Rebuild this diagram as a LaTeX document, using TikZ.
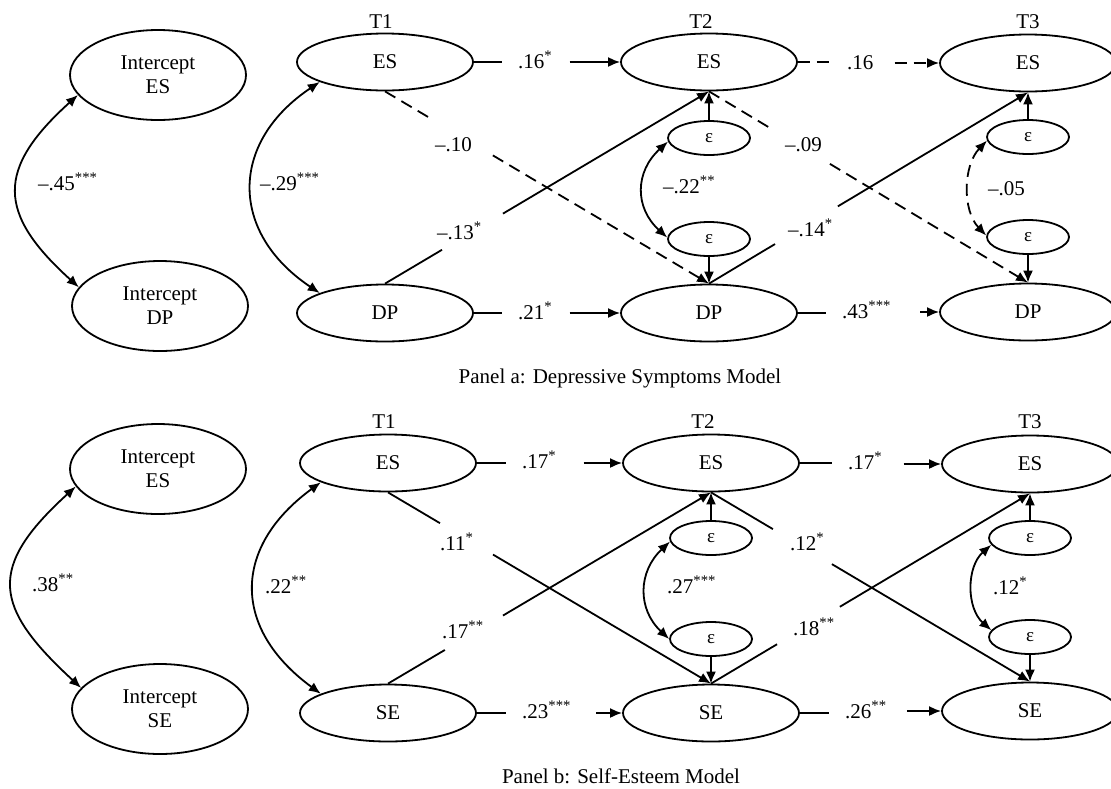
\documentclass[tikz,border=0pt]{standalone}
\usepackage{fontspec}
\setmainfont{Liberation Serif}
\usetikzlibrary{shapes.geometric,arrows.meta,calc}
\newcommand{\sg}[1]{\textsuperscript{#1}}
\begin{document}
\begin{tikzpicture}[x=1pt,y=-1pt,
  every node/.style={font=\fontsize{21}{24}\selectfont},
  lat/.style={ellipse,draw,line width=1.8pt,minimum width=176pt,minimum height=57pt,inner sep=0pt},
  icpt/.style={ellipse,draw,line width=1.8pt,minimum width=176pt,minimum height=90pt,inner sep=0pt,align=center},
  err/.style={ellipse,draw,line width=1.8pt,minimum width=82pt,minimum height=34pt,inner sep=0pt,font=\fontsize{19}{20}\selectfont},
  lab/.style={inner sep=0pt,anchor=base west},
  ttl/.style={inner sep=0pt,anchor=base},
  ln/.style={line width=1.8pt},
  arr/.style={line width=1.8pt,-{Latex[length=12pt,width=10pt]}},
  dbl/.style={line width=1.8pt,{Latex[length=12pt,width=10pt]}-{Latex[length=12pt,width=10pt]}},
  dsh/.style={dash pattern=on 12pt off 7pt}
]
\useasboundingbox[fill=white] (0,0) rectangle (1111,788);

% ================= Panel a =================
\node[icpt] (IESa) at (158,75) {Intercept\\ES};
\node[icpt] (IDPa) at (160,306) {Intercept\\DP};

\node[ttl] (T1a) at (381,28) {T1};
\node[ttl] (T2a) at (701,28) {T2};
\node[ttl] (T3a) at (1028,28) {T3};

\node[lat] (ES1a) at (385,62) {ES};
\node[lat] (ES2a) at (709,62) {ES};
\node[lat] (ES3a) at (1028,63) {ES};
\node[lat] (DP1a) at (385,313) {DP};
\node[lat] (DP2a) at (709,313) {DP};
\node[lat] (DP3a) at (1028,312) {DP};

\node[err] (Ea1) at (709,138) {ε};
\node[err] (Ea2) at (709,239) {ε};
\node[err] (Ea3) at (1028,137) {ε};
\node[err] (Ea4) at (1028,237) {ε};

% covariances
\draw[dbl] (IESa.194) .. controls +(-82,74) and +(-82,-74) .. (IDPa.167);
\node[lab] (c45) at (38,190) {–.45\sg{***}};
\draw[dbl] (ES1a.197) .. controls +(-91,61) and +(-90,-60) .. (DP1a.163);
\node[lab] (c29) at (260,190) {–.29\sg{***}};
\draw[dbl] (Ea1.185) .. controls +(-33,30) and +(-33,-30) .. (Ea2.178);
\node[lab] (c22) at (663,193) {–.22\sg{**}};
\draw[dbl,dsh] (Ea3.185) .. controls +(-24,25) and +(-24,-25) .. (Ea4.178);
\node[lab] (c05) at (988,195) {–.05};

% residual arrows
\draw[arr] (Ea1.north) -- (ES2a.south);
\draw[arr] (Ea2.south) -- (DP2a.north);
\draw[arr] (Ea3.north) -- (ES3a.south);
\draw[arr] (Ea4.south) -- (DP3a.north);

% autoregressive paths
\node[lab] (l16a) at (518,68) {.16\sg{*}};
\draw[ln] (ES1a.east) -- ($(ES1a.east -| l16a.west)+(-16,0)$);
\draw[arr] ($(ES2a.west -| l16a.east)+(17,0)$) -- (ES2a.west);

\node[lab] (l16b) at (847,69) {.16};
\draw[ln,dsh] (ES2a.east) -- ($(ES2a.east -| l16b.west)+(-16,0)$);
\draw[arr,dsh] ($(ES3a.west -| l16b.east)+(21,0)$) -- (ES3a.west);

\node[lab] (l21) at (518,319) {.21\sg{*}};
\draw[ln] (DP1a.east) -- ($(DP1a.east -| l21.west)+(-16,0)$);
\draw[arr] ($(DP2a.west -| l21.east)+(17,0)$) -- (DP2a.west);

\node[lab] (l43) at (842,318) {.43\sg{***}};
\draw[ln] (DP2a.east) -- ($(DP2a.east -| l43.west)+(-16,0)$);
\draw[arr] ($(DP3a.west -| l43.east)+(29,0)$) -- (DP3a.west);

% cross-lagged paths
\draw[ln,dsh] (ES1a.south) -- ($(ES1a.south)!0.148!(DP2a.north)$);
\draw[arr,dsh] ($(ES1a.south)!0.333!(DP2a.north)$) -- (DP2a.north);
\node[lab] (l10) at (435,151) {–.10};

\draw[ln] (DP1a.north) -- ($(DP1a.north)!0.176!(ES2a.south)$);
\draw[arr] ($(DP1a.north)!0.364!(ES2a.south)$) -- (ES2a.south);
\node[lab] (l13) at (437,239) {–.13\sg{*}};

\draw[ln,dsh] (ES2a.south) -- ($(ES2a.south)!0.191!(DP3a.north)$);
\draw[arr,dsh] ($(ES2a.south)!0.379!(DP3a.north)$) -- (DP3a.north);
\node[lab] (l09) at (785,151) {–.09};

\draw[ln] (DP2a.north) -- ($(DP2a.north)!0.207!(ES3a.south)$);
\draw[arr] ($(DP2a.north)!0.404!(ES3a.south)$) -- (ES3a.south);
\node[lab] (l14) at (788,236) {–.14\sg{*}};

\node[ttl] (capa) at (620,383) {Panel a: Depressive Symptoms Model};

% ================= Panel b =================
\node[icpt] (IESb) at (158,469) {Intercept\\ES};
\node[icpt] (ISEb) at (160,709) {Intercept\\SE};

\node[ttl] (T1b) at (384,428) {T1};
\node[ttl] (T2b) at (703,428) {T2};
\node[ttl] (T3b) at (1030,428) {T3};

\node[lat] (ES1b) at (388,463) {ES};
\node[lat] (ES2b) at (711,463) {ES};
\node[lat] (ES3b) at (1030,464) {ES};
\node[lat] (SE1b) at (388,713) {SE};
\node[lat] (SE2b) at (711,713) {SE};
\node[lat] (SE3b) at (1030,711) {SE};

\node[err] (Eb1) at (711,538) {ε};
\node[err] (Eb2) at (711,639) {ε};
\node[err] (Eb3) at (1030,538) {ε};
\node[err] (Eb4) at (1030,637) {ε};

% covariances
\draw[dbl] (IESb.192) .. controls +(-89,81) and +(-88,-81) .. (ISEb.165);
\node[lab] (c38) at (32,591) {.38\sg{**}};
\draw[dbl] (ES1b.196) .. controls +(-89,65) and +(-89,-65) .. (SE1b.164);
\node[lab] (c22b) at (265,593) {.22\sg{**}};
\draw[dbl] (Eb1.185) .. controls +(-32,30) and +(-32,-30) .. (Eb2.180);
\node[lab] (c27) at (667,593) {.27\sg{***}};
\draw[dbl] (Eb3.190) .. controls +(-25,22) and +(-25,-22) .. (Eb4.170);
\node[lab] (c12) at (993,594) {.12\sg{*}};

% residual arrows
\draw[arr] (Eb1.north) -- (ES2b.south);
\draw[arr] (Eb2.south) -- (SE2b.north);
\draw[arr] (Eb3.north) -- (ES3b.south);
\draw[arr] (Eb4.south) -- (SE3b.north);

% autoregressive paths
\node[lab] (m17a) at (522,468) {.17\sg{*}};
\draw[ln] (ES1b.east) -- ($(ES1b.east -| m17a.west)+(-16,0)$);
\draw[arr] ($(ES2b.west -| m17a.east)+(27,0)$) -- (ES2b.west);

\node[lab] (m17b) at (848,469) {.17\sg{*}};
\draw[ln] (ES2b.east) -- ($(ES2b.east -| m17b.west)+(-16,0)$);
\draw[arr] ($(ES3b.west -| m17b.east)+(21,0)$) -- (ES3b.west);

\node[lab] (m23) at (522,718) {.23\sg{***}};
\draw[ln] (SE1b.east) -- ($(SE1b.east -| m23.west)+(-16,0)$);
\draw[arr] ($(SE2b.west -| m23.east)+(25,0)$) -- (SE2b.west);

\node[lab] (m26) at (845,718) {.26\sg{**}};
\draw[ln] (SE2b.east) -- ($(SE2b.east -| m26.west)+(-16,0)$);
\draw[arr] ($(SE3b.west -| m26.east)+(20,0)$) -- (SE3b.west);

% cross-lagged paths
\draw[ln] (ES1b.south) -- ($(ES1b.south)!0.161!(SE2b.north)$);
\draw[arr] ($(ES1b.south)!0.325!(SE2b.north)$) -- (SE2b.north);
\node[lab] (m11) at (440,550) {.11\sg{*}};

\draw[ln] (SE1b.north) -- ($(SE1b.north)!0.176!(ES2b.south)$);
\draw[arr] ($(SE1b.north)!0.356!(ES2b.south)$) -- (ES2b.south);
\node[lab] (m17c) at (442,638) {.17\sg{**}};

\draw[ln] (ES2b.south) -- ($(ES2b.south)!0.194!(SE3b.north)$);
\draw[arr] ($(ES2b.south)!0.379!(SE3b.north)$) -- (SE3b.north);
\node[lab] (m12) at (790,550) {.12\sg{*}};

\draw[ln] (SE2b.north) -- ($(SE2b.north)!0.207!(ES3b.south)$);
\draw[arr] ($(SE2b.north)!0.404!(ES3b.south)$) -- (ES3b.south);
\node[lab] (m18) at (793,635) {.18\sg{**}};

\node[ttl] (capb) at (621,783) {Panel b: Self-Esteem Model};
\end{tikzpicture}
\end{document}
